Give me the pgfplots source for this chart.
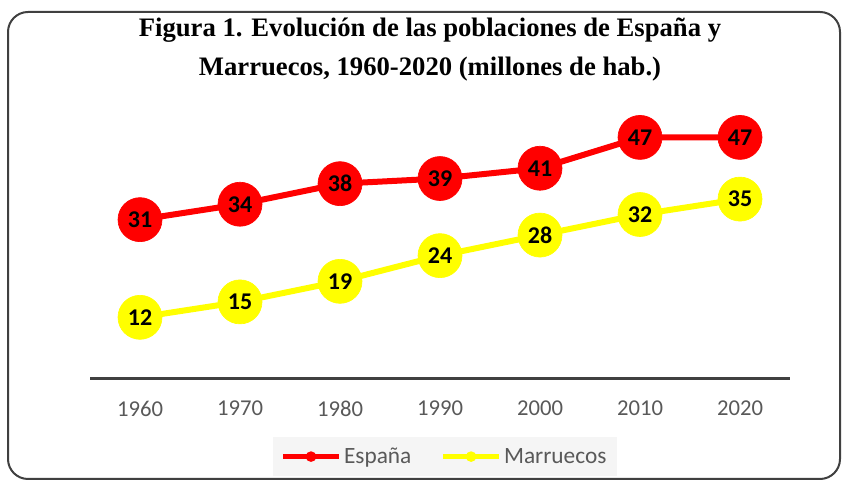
\documentclass[border=0pt]{standalone}
\usepackage{pgfplots}
\pgfplotsset{compat=1.18}
\usepackage{fontspec}
\setmainfont{Carlito}
\newfontfamily\titlefont{Liberation Serif}
\definecolor{esp}{HTML}{FF0000}
\definecolor{mar}{HTML}{FFFF00}
\definecolor{txt}{HTML}{595959}
\begin{document}
\begin{tikzpicture}
\useasboundingbox (0,0) rectangle (634.5pt,360.75pt);
\draw[line width=1.5pt, draw=black!75, rounded corners=15pt] (6pt,1.5pt) rectangle (630pt,351.75pt);
\node[anchor=base, font=\titlefont\bfseries\fontsize{20}{22}\selectfont, inner sep=0pt] at (322.5pt,333pt) {Figura 1. Evolución de las poblaciones de España y};
\node[anchor=base, font=\titlefont\bfseries\fontsize{20}{22}\selectfont, inner sep=0pt] at (322.5pt,303.75pt) {Marruecos, 1960-2020 (millones de hab.)};
\begin{axis}[
  at={(67.5pt,76.5pt)}, anchor=south west,
  scale only axis, width=525pt, height=192.75pt,
  xmin=-0.5, xmax=6.5, ymin=0, ymax=50,
  axis x line*=bottom, axis y line=none,
  x axis line style={line width=2.25pt, draw=black!75, -},
  xtick={0,1,2,3,4,5,6},
  xticklabels={1960,1970,1980,1990,2000,2010,2020},
  major tick length=0pt,
  xticklabel style={font=\fontsize{17}{20}\selectfont, text=txt, yshift=-13pt},
  clip=false,
  /pgf/number format/assume math mode=true,
  nodes near coords={\pgfmathprintnumber{\pgfplotspointmeta}}, point meta=y,
  every node near coord/.append style={anchor=center, font=\bfseries\fontsize{18}{20}\selectfont, text=black},
  legend style={at={(0.507,-0.302)}, anchor=center, legend columns=2, fill=black!4, draw=none,
    font=\fontsize{17.5}{20}\selectfont, text=txt,
    /tikz/every even column/.append style={column sep=20pt},
    inner xsep=6pt, inner ysep=6pt},
  legend image code/.code={\draw[#1, mark=none, line width=3.5pt] (0pt,0pt) -- (42pt,0pt); \fill[#1, mark=none, draw=none] (21pt,0pt) circle (4pt);},
]
\addplot[color=esp, line width=4.5pt, mark=*, mark size=16.5pt, mark options={solid, fill=esp, draw=esp, line width=0.5pt}]
  coordinates {(0,31) (1,34) (2,38) (3,39) (4,41) (5,47) (6,47)};
\addlegendentry{España}
\addplot[color=mar, line width=4.5pt, mark=*, mark size=16.5pt, mark options={solid, fill=mar, draw=mar, line width=0.5pt}]
  coordinates {(0,12) (1,15) (2,19) (3,24) (4,28) (5,32) (6,35)};
\addlegendentry{Marruecos}
\end{axis}
\end{tikzpicture}
\end{document}
